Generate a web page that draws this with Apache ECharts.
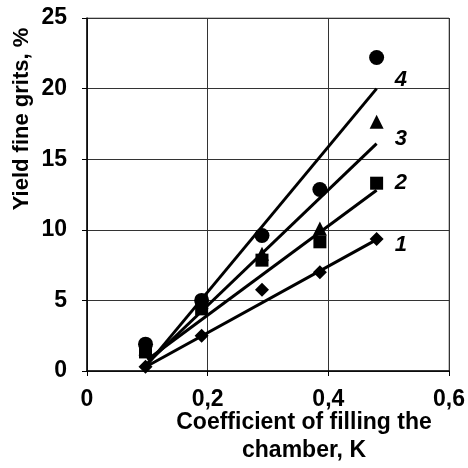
<!DOCTYPE html>
<html><head><meta charset="utf-8">
<script src="https://cdn.jsdelivr.net/npm/echarts@6/dist/echarts.min.js"></script>
<style>html,body{margin:0;padding:0;background:#fff}#c{width:468px;height:468px}</style>
</head><body><div id="c"></div>
<script>
const xVals = [0.097, 0.19, 0.29, 0.386, 0.48];
const s1 = [0.3, 2.5, 5.75, 7.0, 9.35];
const s2 = [1.35, 4.4, 7.85, 9.15, 13.3];
const s3 = [1.6, 4.9, 8.3, 10.1, 17.65];
const s4 = [1.9, 5.0, 9.6, 12.85, 22.2];
const trendX = [0.1, 0.48];
const t1 = [0.35, 9.3];
const t2 = [0.8, 12.8];
const t3 = [0.55, 16.1];
const t4 = [0.45, 20.0];
const labelNames = ['1', '2', '3', '4'];
const labelPos = [[0.52, 8.9], [0.52, 13.3], [0.52, 16.4], [0.52, 20.6]];
const yTicks = [0, 5, 10, 15, 20, 25];
const xTicks = [0, 0.2, 0.4, 0.6];

const font = 'Arial, "Liberation Sans", sans-serif';
const chart = echarts.init(document.getElementById('c'), null, {renderer: 'canvas'});
const pts = (ys) => xVals.map((x, i) => [x, ys[i]]);
const tr = (ys) => trendX.map((x, i) => [x, ys[i]]);
const markers = ['diamond', 'rect', 'triangle', 'circle'];
const sizes = [14, 13, 14, 15];
const series = [];
[s1, s2, s3, s4].forEach((s, i) => {
  series.push({type: 'scatter', data: pts(s), symbol: markers[i], symbolSize: sizes[i],
    itemStyle: {color: '#000', opacity: 1}, z: 3});
});
[t1, t2, t3, t4].forEach((t) => {
  series.push({type: 'line', data: tr(t), showSymbol: false, symbol: 'none',
    lineStyle: {color: '#000', width: 3, opacity: 1}, z: 2});
});
series.push({type: 'scatter', data: labelPos.map((p, i) => [p[0], p[1], labelNames[i]]),
  symbolSize: 0, itemStyle: {opacity: 1},
  label: {show: true, position: 'inside', formatter: (p) => p.data[2],
  fontSize: 22, fontWeight: 'bold', fontStyle: 'italic', color: '#000', fontFamily: font}, z: 4});

chart.setOption({
  animation: false,
  grid: {left: 87, right: 17, top: 18, bottom: 97, show: true, borderColor: '#888', borderWidth: 1},
  xAxis: {type: 'value', min: 0, max: 0.6, interval: 0.2,
    axisLine: {show: true, lineStyle: {color: '#000', width: 1.5}},
    axisTick: {show: true, length: 5, lineStyle: {color: '#000'}},
    splitLine: {show: true, lineStyle: {color: '#333', width: 1}},
    axisLabel: {color: '#000', fontSize: 23, fontWeight: 'bold', fontFamily: font, margin: 17,
      formatter: (v) => String(+v.toFixed(1)).replace('.', ',')}},
  yAxis: {type: 'value', min: 0, max: 25, interval: 5,
    axisLine: {show: true, lineStyle: {color: '#000', width: 1.5}},
    axisTick: {show: true, length: 5, lineStyle: {color: '#000'}},
    splitLine: {show: true, lineStyle: {color: '#333', width: 1}},
    axisLabel: {color: '#000', fontSize: 23, fontWeight: 'bold', fontFamily: font, margin: 20}},
  graphic: [
    {type: 'text', x: 304, y: 409, style: {text: 'Coefficient of filling the\nchamber, K',
      align: 'center', fill: '#000', font: 'bold 23px ' + font, lineHeight: 28}},
    {type: 'text', x: 22, y: 119, rotation: Math.PI / 2, style: {text: 'Yield fine grits, %',
      align: 'center', verticalAlign: 'middle', fill: '#000', font: 'bold 22px ' + font}}
  ],
  series: series
});
</script></body></html>
